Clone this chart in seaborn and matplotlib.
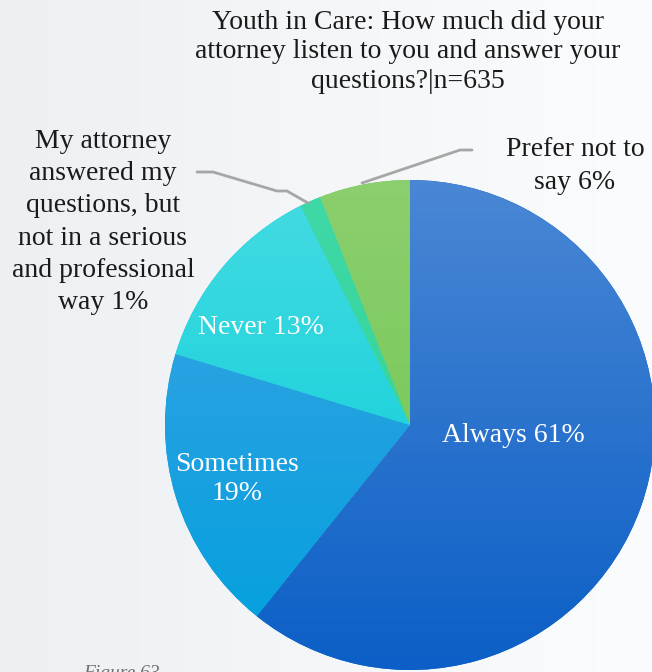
import numpy as np
import matplotlib.pyplot as plt
import seaborn as sns
from matplotlib.colors import LinearSegmentedColormap

# Survey answers (Youth in Care, n=635)
categories = ['Always', 'Sometimes', 'Never',
              'My attorney\nanswered my\nquestions, but\nnot in a serious\nand professional\nway',
              'Prefer not to\nsay']
values = [61, 19, 13, 1.4, 6]
pct_labels = ['61%', '19%', '13%', '1%', '6%']
top_colors = ['#4a87d5', '#3fa2e3', '#45dbe3', '#3fd9a8', '#8ccf6e']
bottom_colors = ['#0b5fc6', '#00a0de', '#00ccd5', '#2fd08e', '#6cc54e']

sns.set_theme(style='white')
plt.rcParams['font.family'] = ['Liberation Serif', 'DejaVu Serif']

W, H = 652, 672
fig = plt.figure(figsize=(W / 100, H / 100), dpi=100)

# light background gradient
bg = fig.add_axes([0, 0, 1, 1])
grad = np.tile(np.linspace(0, 1, 256), (256, 1))
bg.imshow(grad, cmap=LinearSegmentedColormap.from_list('bg', ['#edf0f3', '#fbfcfd']),
          aspect='auto', extent=[0, 1, 0, 1])
bg.axis('off')

ax = fig.add_axes([0, 0, 1, 1])
ax.patch.set_alpha(0)
cx, cy, r = 410, H - 425, 245
wedges, _ = ax.pie(values, startangle=90, counterclock=False, center=(cx, cy),
                   radius=r, colors=bottom_colors, wedgeprops=dict(linewidth=0))

# vertical gradient inside each slice
vgrad = np.linspace(0, 1, 256).reshape(-1, 1)
for w, c_top, c_bot in zip(wedges, top_colors, bottom_colors):
    cmap = LinearSegmentedColormap.from_list('g', [c_top, c_bot])
    im = ax.imshow(vgrad, cmap=cmap, aspect='auto',
                   extent=[cx - r, cx + r, cy - r, cy + r], origin='upper', zorder=2)
    im.set_clip_path(w)

ax.set_xlim(0, W)
ax.set_ylim(0, H)
ax.set_aspect('auto')
ax.axis('off')

def y(px):
    return H - px

fs = 20
title = 'Youth in Care: How much did your\nattorney listen to you and answer your\nquestions?|n=635'
ax.text(408, y(52), title, ha='center', va='center', fontsize=fs, color='#1a1a1a', linespacing=1.25)

# inside labels
ax.text(513, y(435), f'{categories[0]} {pct_labels[0]}', ha='center', va='center', fontsize=fs, color='white', zorder=5)
ax.text(237, y(479), f'{categories[1]}\n{pct_labels[1]}', ha='center', va='center', fontsize=fs, color='white', linespacing=1.17, zorder=5)
ax.text(261, y(328), f'{categories[2]} {pct_labels[2]}', ha='center', va='center', fontsize=fs, color='white', zorder=5)

# outside labels
ax.text(103, y(222), f'{categories[3]} {pct_labels[3]}', ha='center', va='center', fontsize=fs, color='#1a1a1a', linespacing=1.38)
ax.text(575, y(166), f'{categories[4]} {pct_labels[4]}', ha='center', va='center', fontsize=fs, color='#1a1a1a', linespacing=1.46)

# leader lines
ax.plot([197, 213, 277, 287, 308], [y(172), y(172), y(191), y(191), y(203)], color='#a6a6a6', lw=2, zorder=6)
ax.plot([362, 460, 472], [y(183), y(150), y(150)], color='#a6a6a6', lw=2, zorder=6)

ax.text(121, y(674), 'Figure 63', ha='center', va='center', fontsize=14, style='italic', color='#707070')

fig.savefig('out.png', dpi=100)
